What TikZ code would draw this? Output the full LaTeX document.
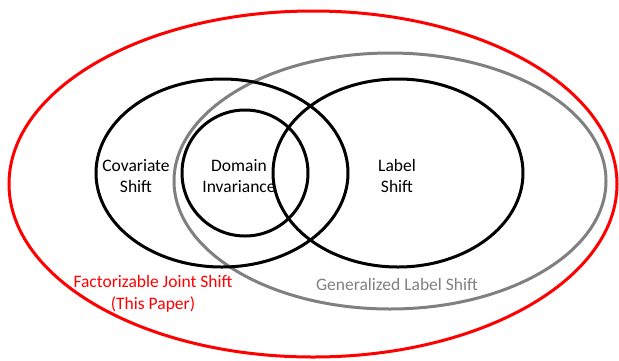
\documentclass[tikz,border=0pt]{standalone}
\usepackage{fontspec}
\setmainfont{Carlito}
\definecolor{glsgray}{RGB}{128,128,128}
\definecolor{fjsred}{RGB}{255,0,0}
\tikzset{
  setline/.style={line width=3pt},
  lbl/.style={font=\fontsize{17.5}{21.5}\selectfont, align=center, inner sep=0pt},
}
\begin{document}
\begin{tikzpicture}[x=1pt,y=-1pt]
\useasboundingbox (0,0) rectangle (619,360);
\draw[setline, fjsred] (313,184) ellipse [x radius=304, y radius=173];
\draw[setline, glsgray] (390,181) ellipse [x radius=216, y radius=128];
\draw[setline] (222,173) ellipse [x radius=126, y radius=94];
\draw[setline] (398,173) ellipse [x radius=125, y radius=94];
\draw[setline] (245,173) circle [radius=63];
\node[lbl] (cov) at (136,176) {Covariate\\Shift};
\node[lbl] (dom) at (239,176) {Domain\\Invariance};
\node[lbl] (lab) at (397,176) {Label\\Shift};
\node[lbl, text=fjsred] (fjs) at (153,294) {Factorizable Joint Shift\\(This Paper)};
\node[lbl, text=glsgray] (gls) at (397,284) {Generalized Label Shift};
\end{tikzpicture}
\end{document}
